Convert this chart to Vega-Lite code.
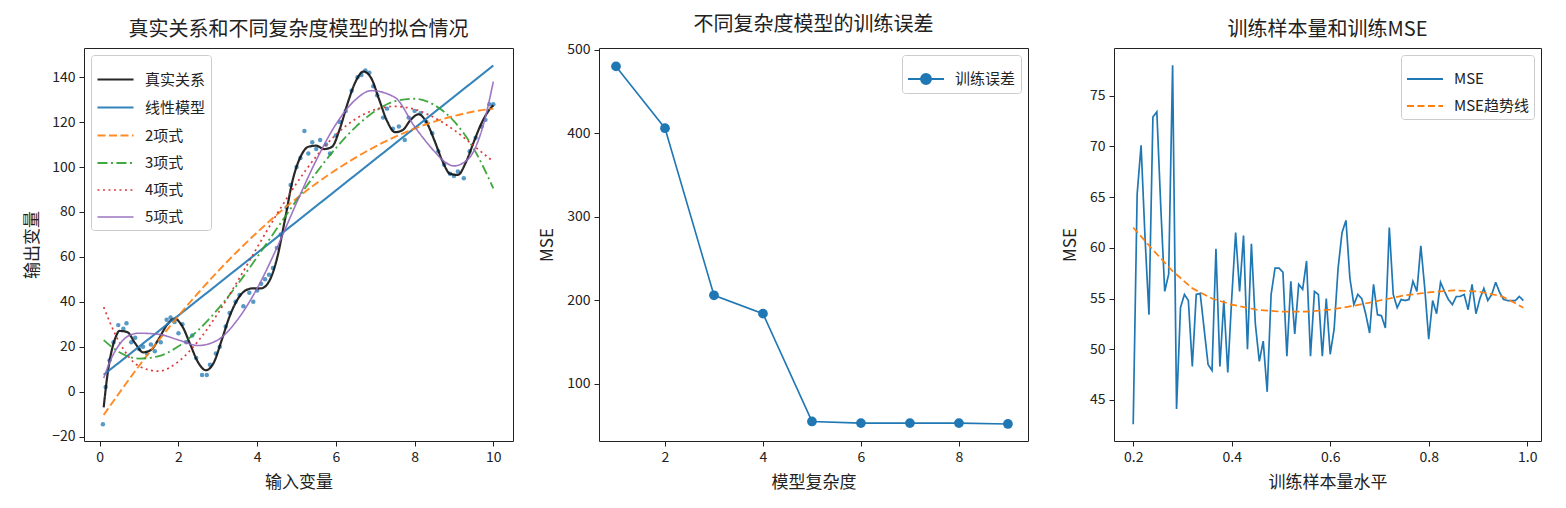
{
  "$schema": "https://vega.github.io/schema/vega-lite/v6.json",
  "padding": {"left": 23, "top": 14, "right": 10, "bottom": 5},
  "bounds": "flush",
  "spacing": 86,
  "resolve": {"scale": {"color": "independent", "strokeDash": "independent", "strokeWidth": "independent"}, "legend": {"color": "independent", "strokeDash": "independent"}},
  "config": {
    "font": "Noto Sans CJK SC",
    "view": {"stroke": "#222", "strokeWidth": 1},
    "title": {"fontSize": 20, "fontWeight": "normal", "color": "#222", "offset": 8, "font": "Noto Sans CJK SC"},
    "axis": {"domain": false, "grid": false, "ticks": true, "tickSize": 5, "tickColor": "#222", "labelFontSize": 14, "labelColor": "#222", "titleFontSize": 17, "titleFontWeight": "normal", "titleColor": "#222", "labelPadding": 4, "titlePadding": 10, "labelFont": "Noto Sans CJK SC", "titleFont": "Noto Sans CJK SC"},
    "legend": {"labelFontSize": 15, "labelColor": "#222", "labelFont": "Noto Sans CJK SC", "fillColor": "rgba(255,255,255,0.85)", "strokeColor": "#ccc", "cornerRadius": 3, "padding": 5, "offset": 7, "rowPadding": -11, "labelOffset": 10, "symbolStrokeWidth": 1.8}
  },
  "datasets": {
    "pts1": [
      {"x":0.08,"y":-14.5},{"x":0.15,"y":2},{"x":0.25,"y":14},{"x":0.35,"y":22},{"x":0.47,"y":29.6},{"x":0.6,"y":28},{"x":0.68,"y":30.4},{"x":0.8,"y":22},{"x":0.9,"y":24},{"x":1.0,"y":19},
      {"x":1.1,"y":20},{"x":1.2,"y":17},{"x":1.3,"y":21},{"x":1.4,"y":18},{"x":1.55,"y":22},{"x":1.7,"y":32},{"x":1.8,"y":33},{"x":1.9,"y":31},{"x":2.0,"y":26},{"x":2.1,"y":30},
      {"x":2.2,"y":22},{"x":2.35,"y":25},{"x":2.45,"y":15},{"x":2.6,"y":7.4},{"x":2.72,"y":7.4},{"x":2.8,"y":12},{"x":2.95,"y":17},{"x":3.05,"y":20},{"x":3.2,"y":29},{"x":3.3,"y":35},
      {"x":3.45,"y":40},{"x":3.55,"y":43},{"x":3.65,"y":38},{"x":3.8,"y":44},{"x":3.9,"y":40},{"x":4.0,"y":45},{"x":4.1,"y":48},{"x":4.2,"y":50},{"x":4.3,"y":52},{"x":4.4,"y":55},
      {"x":4.5,"y":64},{"x":4.6,"y":70},{"x":4.75,"y":82},{"x":4.85,"y":92},{"x":5.0,"y":100},{"x":5.1,"y":104},{"x":5.2,"y":116},{"x":5.3,"y":106},{"x":5.4,"y":111},{"x":5.5,"y":108},
      {"x":5.6,"y":112},{"x":5.75,"y":110},{"x":5.85,"y":106},{"x":6.0,"y":114},{"x":6.1,"y":120},{"x":6.25,"y":125},{"x":6.4,"y":134},{"x":6.55,"y":140},{"x":6.65,"y":141},{"x":6.75,"y":143},
      {"x":6.85,"y":142},{"x":6.95,"y":136},{"x":7.05,"y":132},{"x":7.2,"y":122},{"x":7.3,"y":126},{"x":7.45,"y":117},{"x":7.6,"y":118},{"x":7.75,"y":112},{"x":7.85,"y":122},{"x":8.0,"y":125},
      {"x":8.15,"y":124},{"x":8.3,"y":120},{"x":8.45,"y":115},{"x":8.6,"y":107},{"x":8.75,"y":101},{"x":8.9,"y":97},{"x":9.0,"y":96},{"x":9.1,"y":98},{"x":9.25,"y":95},{"x":9.4,"y":107},
      {"x":9.55,"y":113},{"x":9.7,"y":118},{"x":9.8,"y":121},{"x":9.9,"y":128},{"x":10.0,"y":128}
    ],
    "curves1": [
      {"m":"真实关系","x":0.1,"y":-7},{"m":"真实关系","x":0.2,"y":8},{"m":"真实关系","x":0.3,"y":18},{"m":"真实关系","x":0.4,"y":24},{"m":"真实关系","x":0.5,"y":27},
      {"m":"真实关系","x":0.7,"y":26.5},{"m":"真实关系","x":0.9,"y":21.5},{"m":"真实关系","x":1.1,"y":17.5},{"m":"真实关系","x":1.3,"y":18.5},{"m":"真实关系","x":1.5,"y":23.5},
      {"m":"真实关系","x":1.7,"y":29.5},{"m":"真实关系","x":1.9,"y":32.5},{"m":"真实关系","x":2.1,"y":29},{"m":"真实关系","x":2.3,"y":21},{"m":"真实关系","x":2.5,"y":13},
      {"m":"真实关系","x":2.7,"y":9.5},{"m":"真实关系","x":2.9,"y":13},{"m":"真实关系","x":3.1,"y":23},{"m":"真实关系","x":3.3,"y":33.5},{"m":"真实关系","x":3.5,"y":41},
      {"m":"真实关系","x":3.7,"y":45},{"m":"真实关系","x":3.9,"y":46},{"m":"真实关系","x":4.1,"y":46},{"m":"真实关系","x":4.3,"y":49},{"m":"真实关系","x":4.5,"y":59},
      {"m":"真实关系","x":4.7,"y":76},{"m":"真实关系","x":4.9,"y":94},{"m":"真实关系","x":5.1,"y":104.5},{"m":"真实关系","x":5.3,"y":109},{"m":"真实关系","x":5.5,"y":109.5},
      {"m":"真实关系","x":5.7,"y":108},{"m":"真实关系","x":5.9,"y":109},{"m":"真实关系","x":6.1,"y":117},{"m":"真实关系","x":6.3,"y":128.5},{"m":"真实关系","x":6.5,"y":138},
      {"m":"真实关系","x":6.7,"y":142.5},{"m":"真实关系","x":6.9,"y":139.5},{"m":"真实关系","x":7.1,"y":130},{"m":"真实关系","x":7.3,"y":120.5},{"m":"真实关系","x":7.5,"y":115.5},
      {"m":"真实关系","x":7.7,"y":116.5},{"m":"真实关系","x":7.9,"y":121},{"m":"真实关系","x":8.1,"y":123.5},{"m":"真实关系","x":8.3,"y":120},{"m":"真实关系","x":8.5,"y":112},
      {"m":"真实关系","x":8.7,"y":103},{"m":"真实关系","x":8.9,"y":97},{"m":"真实关系","x":9.1,"y":96.5},{"m":"真实关系","x":9.3,"y":102},{"m":"真实关系","x":9.5,"y":111},
      {"m":"真实关系","x":9.7,"y":119.5},{"m":"真实关系","x":9.9,"y":125.5},{"m":"真实关系","x":10.0,"y":127.5},
      {"m":"线性模型","x":0.1,"y":7.5},{"m":"线性模型","x":10.0,"y":145.2},
      {"m":"2项式","x":0.1,"y":-10.4},{"m":"2项式","x":0.5,"y":-0.5},{"m":"2项式","x":1,"y":11.5},{"m":"2项式","x":1.5,"y":22.9},{"m":"2项式","x":2,"y":33.7},
      {"m":"2项式","x":2.5,"y":43.9},{"m":"2项式","x":3,"y":53.5},{"m":"2项式","x":3.5,"y":62.5},{"m":"2项式","x":4,"y":70.9},{"m":"2项式","x":4.5,"y":78.8},
      {"m":"2项式","x":5,"y":86.0},{"m":"2项式","x":5.5,"y":92.7},{"m":"2项式","x":6,"y":98.7},{"m":"2项式","x":6.5,"y":104.2},{"m":"2项式","x":7,"y":109.1},
      {"m":"2项式","x":7.5,"y":113.4},{"m":"2项式","x":8,"y":117.1},{"m":"2项式","x":8.5,"y":120.2},{"m":"2项式","x":9,"y":122.7},{"m":"2项式","x":9.5,"y":124.7},{"m":"2项式","x":10,"y":126.0},
      {"m":"3项式","x":0.1,"y":22.9},{"m":"3项式","x":0.5,"y":17.5},{"m":"3项式","x":1,"y":14.7},{"m":"3项式","x":1.5,"y":15.8},{"m":"3项式","x":2,"y":20.2},
      {"m":"3项式","x":2.5,"y":27.3},{"m":"3项式","x":3,"y":36.7},{"m":"3项式","x":3.5,"y":47.7},{"m":"3项式","x":4,"y":59.9},{"m":"3项式","x":4.5,"y":72.6},
      {"m":"3项式","x":5,"y":85.2},{"m":"3项式","x":5.5,"y":97.4},{"m":"3项式","x":6,"y":108.4},{"m":"3项式","x":6.5,"y":117.8},{"m":"3项式","x":7,"y":124.9},
      {"m":"3项式","x":7.5,"y":129.3},{"m":"3项式","x":8,"y":130.4},{"m":"3项式","x":8.5,"y":127.6},{"m":"3项式","x":9,"y":120.4},{"m":"3项式","x":9.5,"y":108.2},{"m":"3项式","x":10,"y":90.5},
      {"m":"4项式","x":0.1,"y":37.6},{"m":"4项式","x":0.5,"y":21.9},{"m":"4项式","x":1,"y":11.3},{"m":"4项式","x":1.5,"y":9.1},{"m":"4项式","x":2,"y":13.4},
      {"m":"4项式","x":2.5,"y":22.5},{"m":"4项式","x":3,"y":34.8},{"m":"4项式","x":3.5,"y":49.1},{"m":"4项式","x":4,"y":64.2},{"m":"4项式","x":4.5,"y":79.0},
      {"m":"4项式","x":5,"y":92.7},{"m":"4项式","x":5.5,"y":104.7},{"m":"4项式","x":6,"y":114.4},{"m":"4项式","x":6.5,"y":121.4},{"m":"4项式","x":7,"y":125.6},
      {"m":"4项式","x":7.5,"y":127.0},{"m":"4项式","x":8,"y":125.7},{"m":"4项式","x":8.5,"y":122.0},{"m":"4项式","x":9,"y":116.5},{"m":"4项式","x":9.5,"y":109.5},{"m":"4项式","x":10,"y":102.4},
      {"m":"5项式","x":0.1,"y":6},{"m":"5项式","x":0.3,"y":15},{"m":"5项式","x":0.5,"y":21},{"m":"5项式","x":0.75,"y":25},{"m":"5项式","x":1,"y":26},
      {"m":"5项式","x":1.5,"y":25.5},{"m":"5项式","x":2,"y":23},{"m":"5项式","x":2.5,"y":20.5},{"m":"5项式","x":3,"y":23},{"m":"5项式","x":3.5,"y":32},
      {"m":"5项式","x":4,"y":46},{"m":"5项式","x":4.5,"y":64},{"m":"5项式","x":5,"y":84},{"m":"5项式","x":5.5,"y":103},{"m":"5项式","x":6,"y":119},
      {"m":"5项式","x":6.5,"y":130},{"m":"5项式","x":6.9,"y":134},{"m":"5项式","x":7.5,"y":131},{"m":"5项式","x":8,"y":118},{"m":"5项式","x":8.5,"y":107},
      {"m":"5项式","x":8.75,"y":102.5},{"m":"5项式","x":9,"y":100.5},{"m":"5项式","x":9.25,"y":102},{"m":"5项式","x":9.5,"y":107},{"m":"5项式","x":9.75,"y":119},{"m":"5项式","x":10,"y":138}
    ],
    "p2": [
      {"s":"训练误差","k":1,"mse":480},{"s":"训练误差","k":2,"mse":406},{"s":"训练误差","k":3,"mse":206},{"s":"训练误差","k":4,"mse":184},{"s":"训练误差","k":5,"mse":55},
      {"s":"训练误差","k":6,"mse":53},{"s":"训练误差","k":7,"mse":53},{"s":"训练误差","k":8,"mse":53},{"s":"训练误差","k":9,"mse":52}
    ],
    "p3": [
      {"s":"MSE","x":0.200,"y":42.6},{"s":"MSE","x":0.208,"y":65.3},{"s":"MSE","x":0.216,"y":70.1},{"s":"MSE","x":0.224,"y":61.0},{"s":"MSE","x":0.232,"y":53.4},
      {"s":"MSE","x":0.240,"y":72.9},{"s":"MSE","x":0.248,"y":73.4},{"s":"MSE","x":0.256,"y":64.0},{"s":"MSE","x":0.264,"y":55.7},{"s":"MSE","x":0.272,"y":57.4},
      {"s":"MSE","x":0.280,"y":78.0},{"s":"MSE","x":0.288,"y":44.1},{"s":"MSE","x":0.296,"y":54.1},{"s":"MSE","x":0.304,"y":55.4},{"s":"MSE","x":0.312,"y":54.8},
      {"s":"MSE","x":0.320,"y":48.3},{"s":"MSE","x":0.328,"y":55.4},{"s":"MSE","x":0.336,"y":55.5},{"s":"MSE","x":0.344,"y":52.0},{"s":"MSE","x":0.352,"y":48.5},
      {"s":"MSE","x":0.360,"y":47.9},{"s":"MSE","x":0.368,"y":59.9},{"s":"MSE","x":0.376,"y":48.3},{"s":"MSE","x":0.384,"y":54.8},{"s":"MSE","x":0.392,"y":47.7},
      {"s":"MSE","x":0.400,"y":55.0},{"s":"MSE","x":0.408,"y":61.5},{"s":"MSE","x":0.416,"y":55.7},{"s":"MSE","x":0.424,"y":61.2},{"s":"MSE","x":0.432,"y":50.0},
      {"s":"MSE","x":0.440,"y":60.4},{"s":"MSE","x":0.448,"y":52.5},{"s":"MSE","x":0.456,"y":48.8},{"s":"MSE","x":0.464,"y":50.8},{"s":"MSE","x":0.472,"y":45.8},
      {"s":"MSE","x":0.480,"y":55.4},{"s":"MSE","x":0.488,"y":58.0},{"s":"MSE","x":0.496,"y":58.0},{"s":"MSE","x":0.504,"y":57.6},{"s":"MSE","x":0.512,"y":49.3},
      {"s":"MSE","x":0.520,"y":56.7},{"s":"MSE","x":0.528,"y":51.5},{"s":"MSE","x":0.536,"y":56.4},{"s":"MSE","x":0.544,"y":55.9},{"s":"MSE","x":0.552,"y":58.7},
      {"s":"MSE","x":0.560,"y":49.3},{"s":"MSE","x":0.568,"y":55.7},{"s":"MSE","x":0.576,"y":55.4},{"s":"MSE","x":0.584,"y":49.3},{"s":"MSE","x":0.592,"y":55.0},
      {"s":"MSE","x":0.600,"y":49.5},{"s":"MSE","x":0.608,"y":52.0},{"s":"MSE","x":0.616,"y":58.0},{"s":"MSE","x":0.624,"y":61.5},{"s":"MSE","x":0.632,"y":62.7},
      {"s":"MSE","x":0.640,"y":57.0},{"s":"MSE","x":0.648,"y":54.4},{"s":"MSE","x":0.656,"y":55.4},{"s":"MSE","x":0.664,"y":55.0},{"s":"MSE","x":0.672,"y":53.5},
      {"s":"MSE","x":0.680,"y":51.6},{"s":"MSE","x":0.688,"y":56.4},{"s":"MSE","x":0.696,"y":53.4},{"s":"MSE","x":0.704,"y":53.3},{"s":"MSE","x":0.712,"y":52.1},
      {"s":"MSE","x":0.720,"y":62.0},{"s":"MSE","x":0.728,"y":55.4},{"s":"MSE","x":0.736,"y":54.1},{"s":"MSE","x":0.744,"y":54.9},{"s":"MSE","x":0.752,"y":54.8},
      {"s":"MSE","x":0.760,"y":54.9},{"s":"MSE","x":0.768,"y":56.7},{"s":"MSE","x":0.776,"y":55.7},{"s":"MSE","x":0.784,"y":60.2},{"s":"MSE","x":0.792,"y":56.0},
      {"s":"MSE","x":0.800,"y":51.0},{"s":"MSE","x":0.808,"y":54.8},{"s":"MSE","x":0.816,"y":53.5},{"s":"MSE","x":0.824,"y":56.6},{"s":"MSE","x":0.832,"y":55.7},
      {"s":"MSE","x":0.840,"y":54.9},{"s":"MSE","x":0.848,"y":54.4},{"s":"MSE","x":0.856,"y":55.2},{"s":"MSE","x":0.864,"y":55.2},{"s":"MSE","x":0.872,"y":55.4},
      {"s":"MSE","x":0.880,"y":53.9},{"s":"MSE","x":0.888,"y":56.4},{"s":"MSE","x":0.896,"y":53.5},{"s":"MSE","x":0.904,"y":55.0},{"s":"MSE","x":0.912,"y":56.0},
      {"s":"MSE","x":0.920,"y":54.8},{"s":"MSE","x":0.928,"y":55.4},{"s":"MSE","x":0.936,"y":56.6},{"s":"MSE","x":0.944,"y":55.6},{"s":"MSE","x":0.952,"y":54.9},
      {"s":"MSE","x":0.960,"y":54.8},{"s":"MSE","x":0.968,"y":54.8},{"s":"MSE","x":0.976,"y":54.8},{"s":"MSE","x":0.984,"y":55.2},{"s":"MSE","x":0.992,"y":54.8},
      {"s":"MSE趋势线","x":0.20,"y":62.0},{"s":"MSE趋势线","x":0.24,"y":59.8},{"s":"MSE趋势线","x":0.28,"y":57.7},{"s":"MSE趋势线","x":0.32,"y":56.0},{"s":"MSE趋势线","x":0.36,"y":55.0},
      {"s":"MSE趋势线","x":0.40,"y":54.4},{"s":"MSE趋势线","x":0.45,"y":53.9},{"s":"MSE趋势线","x":0.50,"y":53.7},{"s":"MSE趋势线","x":0.55,"y":53.7},{"s":"MSE趋势线","x":0.60,"y":53.9},
      {"s":"MSE趋势线","x":0.65,"y":54.3},{"s":"MSE趋势线","x":0.70,"y":54.8},{"s":"MSE趋势线","x":0.75,"y":55.3},{"s":"MSE趋势线","x":0.80,"y":55.6},{"s":"MSE趋势线","x":0.85,"y":55.8},
      {"s":"MSE趋势线","x":0.90,"y":55.7},{"s":"MSE趋势线","x":0.95,"y":55.2},{"s":"MSE趋势线","x":0.992,"y":54.1}
    ]
  },
  "hconcat": [
    {
      "width": 429, "height": 393,
      "title": "真实关系和不同复杂度模型的拟合情况",
      "layer": [
        {
          "data": {"name": "pts1"},
          "mark": {"type": "point", "filled": true, "size": 20, "color": "#1f77b4", "opacity": 0.75},
          "encoding": {
            "x": {"field": "x", "type": "quantitative", "scale": {"domain": [-0.4, 10.5], "nice": false, "zero": false}, "axis": {"title": "输入变量", "values": [0, 2, 4, 6, 8, 10]}},
            "y": {"field": "y", "type": "quantitative", "scale": {"domain": [-22, 153], "nice": false, "zero": false}, "axis": {"title": "输出变量", "values": [-20, 0, 20, 40, 60, 80, 100, 120, 140]}}
          }
        },
        {
          "data": {"name": "curves1"},
          "mark": {"type": "line", "interpolate": "monotone", "opacity": 0.9},
          "encoding": {
            "x": {"field": "x", "type": "quantitative"},
            "y": {"field": "y", "type": "quantitative"},
            "color": {"field": "m", "type": "nominal", "scale": {"domain": ["真实关系", "线性模型", "2项式", "3项式", "4项式", "5项式"], "range": ["#111111", "#1f77b4", "#ff7f0e", "#2ca02c", "#d62728", "#9467bd"]},
              "legend": {"title": null, "orient": "top-left", "symbolType": "M-1,0H1", "symbolSize": 1300}},
            "strokeDash": {"field": "m", "type": "nominal", "scale": {"domain": ["真实关系", "线性模型", "2项式", "3项式", "4项式", "5项式"], "range": [[1, 0], [1, 0], [8, 3.5], [10, 3.5, 2, 3.5], [2, 3.5], [1, 0]]},
              "legend": {"title": null, "orient": "top-left", "symbolType": "M-1,0H1", "symbolSize": 1300}},
            "strokeWidth": {"field": "m", "type": "nominal", "scale": {"domain": ["真实关系", "线性模型", "2项式", "3项式", "4项式", "5项式"], "range": [2.2, 1.6, 1.6, 1.6, 1.6, 1.8]}, "legend": null}
          }
        }
      ]
    },
    {
      "width": 429, "height": 393,
      "title": "不同复杂度模型的训练误差",
      "data": {"name": "p2"},
      "layer": [
        {
          "mark": {"type": "line", "strokeWidth": 1.6},
          "encoding": {
            "x": {"field": "k", "type": "quantitative", "scale": {"domain": [0.653, 9.41], "nice": false, "zero": false}, "axis": {"title": "模型复杂度", "values": [2, 4, 6, 8]}},
            "y": {"field": "mse", "type": "quantitative", "scale": {"domain": [31.6, 502], "nice": false, "zero": false}, "axis": {"title": "MSE", "values": [100, 200, 300, 400, 500]}},
            "color": {"field": "s", "type": "nominal", "scale": {"domain": ["训练误差"], "range": ["#1f77b4"]},
              "legend": {"title": null, "orient": "top-right", "symbolType": "M-1,0L1,0M0.28,0A0.28,0.28,0,1,1,-0.28,0A0.28,0.28,0,1,1,0.28,0", "symbolSize": 1300, "symbolFillColor": "#1f77b4", "symbolStrokeColor": "#1f77b4"}}
          }
        },
        {
          "mark": {"type": "point", "filled": true, "size": 95, "opacity": 1},
          "encoding": {
            "x": {"field": "k", "type": "quantitative"},
            "y": {"field": "mse", "type": "quantitative"},
            "color": {"field": "s", "type": "nominal", "legend": null}
          }
        }
      ]
    },
    {
      "width": 427, "height": 393,
      "title": "训练样本量和训练MSE",
      "data": {"name": "p3"},
      "mark": {"type": "line", "strokeWidth": 1.7},
      "encoding": {
        "x": {"field": "x", "type": "quantitative", "scale": {"domain": [0.161, 1.028], "nice": false, "zero": false}, "axis": {"title": "训练样本量水平", "values": [0.2, 0.4, 0.6, 0.8, 1.0], "format": ".1f"}},
        "y": {"field": "y", "type": "quantitative", "scale": {"domain": [40.95, 79.7], "nice": false, "zero": false}, "axis": {"title": "MSE", "values": [45, 50, 55, 60, 65, 70, 75]}},
        "color": {"field": "s", "type": "nominal", "scale": {"domain": ["MSE", "MSE趋势线"], "range": ["#1f77b4", "#ff7f0e"]},
          "legend": {"title": null, "orient": "top-right", "symbolType": "M-1,0H1", "symbolSize": 1300}},
        "strokeDash": {"field": "s", "type": "nominal", "scale": {"domain": ["MSE", "MSE趋势线"], "range": [[1, 0], [7, 3.5]]},
          "legend": {"title": null, "orient": "top-right", "symbolType": "M-1,0H1", "symbolSize": 1300}}
      }
    }
  ]
}
